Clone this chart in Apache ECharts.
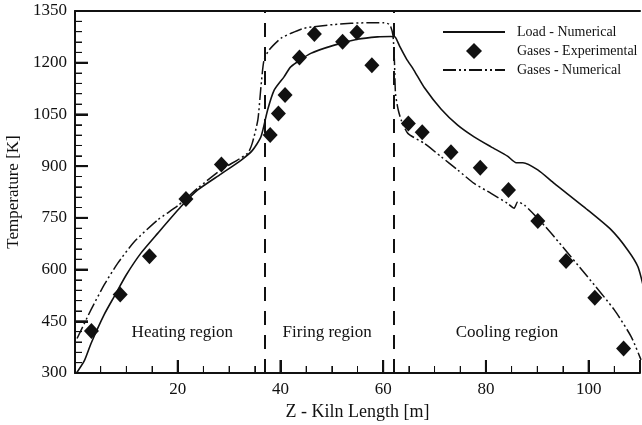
<!DOCTYPE html>
<html>
<head>
<meta charset="utf-8">
<script src="https://cdn.jsdelivr.net/npm/echarts@6/dist/echarts.min.js"></script>
<style>
  html, body { margin: 0; padding: 0; background: #fff; }
  #chart { width: 642px; height: 425px; }
</style>
</head>
<body>
<div id="chart"></div>
<script>
// load temperature (solid line)
var loadX = [0.3, 1.8, 3.1, 5.7, 7.6, 10, 12.8, 16.1, 20.6, 23.9, 28.4, 32.3, 34.5, 36.2, 37.5, 38.8, 40.7, 42, 45.9, 50.5, 55, 58.9, 61.5, 62.3, 63.2, 64.5, 66, 68, 71.3, 74.5, 77.7, 81, 84.2, 85.9, 87.2, 90.1, 93.3, 99.8, 104.4, 107.6, 109.6, 111];
var loadY = [300, 335, 385, 470, 521, 585, 647, 705, 782, 831, 877, 917, 945, 985, 1063, 1121, 1159, 1188, 1227, 1251, 1268, 1275, 1276, 1275, 1248, 1212, 1178, 1128, 1065, 1019, 985, 956, 929, 910, 910, 889, 850, 773, 715, 657, 608, 530];

// gases temperature, numerical (dash-dot-dot line)
var gasX = [0.4, 3.1, 5.7, 8.3, 11.5, 16.1, 20, 23.9, 28.4, 33.6, 34.5, 35.6, 36.2, 36.8, 37.8, 40.1, 42, 44.6, 50.5, 57, 60.2, 61.3, 61.9, 62.2, 62.4, 62.9, 63.5, 64.8, 68, 71.3, 74.5, 77.7, 81, 84.2, 85.5, 86.2, 87.5, 90.7, 93.3, 99.8, 105, 108.3, 110.2];
var gasY = [400, 483, 556, 618, 680, 744, 785, 836, 889, 937, 966, 1034, 1130, 1208, 1237, 1271, 1285, 1300, 1311, 1316, 1316, 1310, 1280, 1200, 1110, 1065, 1034, 995, 966, 927, 889, 850, 821, 792, 778, 797, 787, 739, 695, 579, 483, 405, 338];

// gases temperature, experimental (diamonds)
var expX = [3.2, 8.8, 14.5, 21.6, 28.5, 38.0, 39.6, 40.9, 43.7, 46.6, 52.1, 54.9, 57.8, 64.9, 67.6, 73.2, 78.9, 84.4, 90.1, 95.6, 101.2, 106.8];
var expY = [422, 528, 639, 805, 905, 990, 1053, 1106, 1215, 1283, 1261, 1288, 1193, 1024, 998, 940, 895, 831, 741, 625, 518, 371];

var seriesNames = ['Load - Numerical', 'Gases - Experimental', 'Gases - Numerical'];
var regionNames = ['Heating region', 'Firing region', 'Cooling region'];
var regionCenters = [20.9, 49.1, 84.1];
var regionBounds = [37, 62];

// axis ranges
var xMin = 0, xMax = 110, xStep = 20, xMinor = 4;
var yMin = 300, yMax = 1350, yStep = 150, yMinor = 5;

function pairs(xs, ys) {
  return xs.map(function (x, i) { return [x, ys[i]]; });
}

var serif = '"Liberation Serif", "DejaVu Serif", serif';
var gasDash = [13, 3, 2, 3, 2, 3];
var myChart = echarts.init(document.getElementById('chart'));

// hand drawn legend, top right
var lg = { x1: 443, x2: 505, tx: 517, rows: [32, 51, 70] };
var legendGraphics = [
  { type: 'line', shape: { x1: lg.x1, y1: lg.rows[0], x2: lg.x2, y2: lg.rows[0] }, style: { stroke: '#111', lineWidth: 1.8 } },
  { type: 'polygon', shape: { points: [[474, lg.rows[1] - 8], [482, lg.rows[1]], [474, lg.rows[1] + 8], [466, lg.rows[1]]] }, style: { fill: '#111' } },
  { type: 'line', shape: { x1: lg.x1, y1: lg.rows[2], x2: lg.x2, y2: lg.rows[2] }, style: { stroke: '#111', lineWidth: 1.8, lineDash: [13, 3, 2, 3, 2, 3] } }
];
seriesNames.forEach(function (n, i) {
  legendGraphics.push({
    type: 'text', x: lg.tx, y: lg.rows[i],
    style: { text: n, fontFamily: serif, fontSize: 14, fill: '#111', verticalAlign: 'middle' }
  });
});

var option = {
  animation: false,
  backgroundColor: '#fff',
  textStyle: { fontFamily: serif, color: '#111' },
  grid: { left: 75, right: 2, top: 11, bottom: 52, outerBoundsMode: 'none' },
  graphic: legendGraphics,
  xAxis: [{
    type: 'value',
    min: xMin,
    max: xMax,
    interval: xStep,
    name: 'Z - Kiln Length [m]',
    nameLocation: 'middle',
    nameGap: 28,
    nameTextStyle: { fontFamily: serif, fontSize: 18, color: '#111' },
    axisLine: { show: true, lineStyle: { color: '#111', width: 2 } },
    axisTick: { show: true, inside: true, length: 13, lineStyle: { color: '#111', width: 2 } },
    minorTick: { show: true, splitNumber: xMinor, length: 7, lineStyle: { color: '#111', width: 1 } },
    axisLabel: { showMinLabel: false, showMaxLabel: false, fontFamily: serif, fontSize: 17, color: '#111', margin: 8 },
    splitLine: { show: false }
  }, {
    type: 'value',
    position: 'top',
    min: xMin,
    max: xMax,
    axisLine: { show: true, lineStyle: { color: '#111', width: 2 } },
    axisTick: { show: false },
    axisLabel: { show: false },
    splitLine: { show: false }
  }],
  yAxis: {
    type: 'value',
    min: yMin,
    max: yMax,
    interval: yStep,
    name: 'Temperature [K]',
    nameLocation: 'middle',
    nameGap: 46,
    nameTextStyle: { fontFamily: serif, fontSize: 17, color: '#111' },
    axisLine: { show: true, lineStyle: { color: '#111', width: 2 } },
    axisTick: { show: true, inside: true, length: 13, lineStyle: { color: '#111', width: 2 } },
    minorTick: { show: true, splitNumber: yMinor, length: 7, lineStyle: { color: '#111', width: 1 } },
    axisLabel: { formatter: function (v) { return String(v); }, fontFamily: serif, fontSize: 17, color: '#111', margin: 8 },
    splitLine: { show: false }
  },
  series: [{
    name: seriesNames[0],
    type: 'line',
    data: pairs(loadX, loadY),
    showSymbol: false,
    symbol: 'none',
    smooth: 0.2,
    color: '#111',
    lineStyle: { color: '#111', width: 1.6 },
    markLine: {
      silent: true,
      symbol: 'none',
      label: { show: false },
      lineStyle: { color: '#111', width: 2, type: [14, 10] },
      data: regionBounds.map(function (v) { return { xAxis: v }; })
    },
    markPoint: {
      silent: true,
      symbol: 'circle',
      symbolSize: 1,
      itemStyle: { color: 'rgba(0,0,0,0)' },
      label: { show: true, position: 'inside', fontFamily: serif, fontSize: 17, color: '#111' },
      data: regionNames.map(function (n, i) {
        return { name: n, coord: [regionCenters[i], 416], label: { formatter: n } };
      })
    }
  }, {
    name: seriesNames[1],
    type: 'scatter',
    data: pairs(expX, expY),
    symbol: 'diamond',
    symbolSize: [15, 16],
    itemStyle: { color: '#111', opacity: 1 }
  }, {
    name: seriesNames[2],
    type: 'line',
    data: pairs(gasX, gasY),
    showSymbol: false,
    symbol: 'none',
    smooth: 0.2,
    color: '#111',
    lineStyle: { color: '#111', width: 1.5, type: gasDash }
  }]
};

myChart.setOption(option);

// inside ticks as graphic lines, placed through the grid's own scales
var tickGraphics = [];
function addTick(px, len, horizontal) {
  tickGraphics.push({
    type: 'line',
    z: 100,
    silent: true,
    shape: horizontal
      ? { x1: px[0], y1: px[1], x2: px[0] + len, y2: px[1] }
      : { x1: px[0], y1: px[1], x2: px[0], y2: px[1] - len },
    style: { stroke: '#111', lineWidth: len > 10 ? 2 : 1 }
  });
}
for (var k = 1; k * xStep / xMinor < xMax; k++) {
  var tx = k * xStep / xMinor + xMin;
  addTick(myChart.convertToPixel({ gridIndex: 0 }, [tx, yMin]), k % xMinor === 0 ? 13 : 7, false);
}
for (var j = 1; yMin + j * yStep / yMinor <= yMax; j++) {
  var ty = yMin + j * yStep / yMinor;
  addTick(myChart.convertToPixel({ gridIndex: 0 }, [xMin, ty]), j % yMinor === 0 ? 13 : 7, true);
}
myChart.setOption({ graphic: legendGraphics.concat(tickGraphics) });
</script>
</body>
</html>
